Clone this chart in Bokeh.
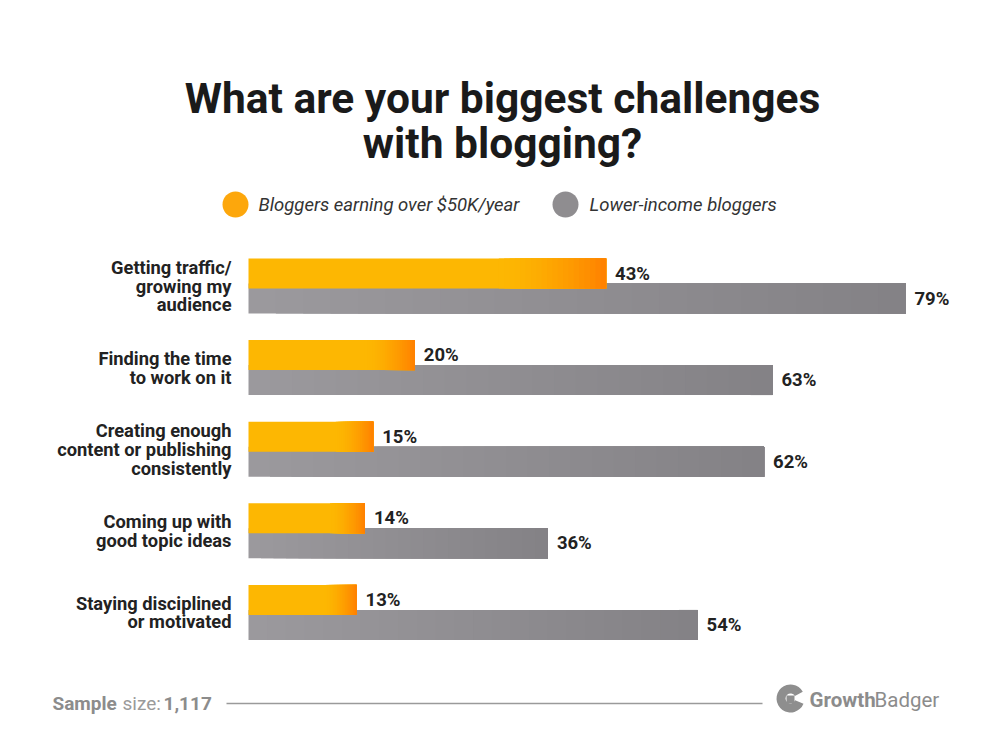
from bokeh.plotting import figure
from bokeh.models import Range1d
from bokeh.core.properties import value
from bokeh.embed import file_html
from bokeh.resources import INLINE

# ---------------- data ----------------
categories = [
    ["Getting traffic/", "growing my", "audience"],
    ["Finding the time", "to work on it"],
    ["Creating enough", "content or publishing", "consistently"],
    ["Coming up with", "good topic ideas"],
    ["Staying disciplined", "or motivated"],
]
high_income = [43, 20, 15, 14, 13]
low_income = [79, 63, 62, 36, 54]
series_names = ["Bloggers earning over $50K/year", "Lower-income bloggers"]
title_lines = ["What are your biggest challenges", "with blogging?"]
sample_size = "1,117"

# ---------------- layout helpers ----------------
W, H = 984, 738
OFF = 0
ZERO_X = 248.0          # reference pixel of 0%
PX_PER_PCT = 657.0 / 79.0


def px(xref):
    """reference pixel x -> data x (percent units)"""
    return (xref - OFF - ZERO_X + OFF) / PX_PER_PCT


def py(yref):
    """reference pixel y -> data y (figure pixel units, top-down)"""
    return yref - OFF


x_start = px(0)
x_end = px(W)

p = figure(width=W, height=H, output_backend="svg", toolbar_location=None,
           x_range=Range1d(x_start, x_end), y_range=Range1d(H, 0),
           min_border=0, background_fill_color="white", border_fill_color="white")
p.axis.visible = False
p.grid.visible = False
p.outline_line_color = None

FONT = value("Roboto")


def lerp(c1, c2, t):
    return "#%02x%02x%02x" % tuple(int(round(a + (b - a) * t)) for a, b in zip(c1, c2))


ORANGE_A = (253, 183, 2)
ORANGE_B = (255, 128, 0)
GRAY_A = (156, 154, 157)
GRAY_B = (131, 129, 134)

# ---------------- bars ----------------
GROUP0 = 273.0
GROUP_STEP = 81.6
BAR_H = 30
LBL = px(ZERO_X + 9)
for i, (hv, lv) in enumerate(zip(high_income, low_income)):
    yo = py(GROUP0 + i * GROUP_STEP)
    yg = py(GROUP0 + i * GROUP_STEP + 25)
    # gray bar with subtle gradient (each slice runs to the bar end -> no seams)
    n = 24
    lefts = [lv * k / n for k in range(n)]
    cols = [lerp(GRAY_A, GRAY_B, (k + 0.5) / n) for k in range(n)]
    p.hbar(y=[yg] * n, left=lefts, right=[lv] * n, height=BAR_H, fill_color=cols, line_color=None)
    # orange bar with gradient near the end
    f = 0.30
    solid_end = hv * (1 - f)
    n = 20
    lefts = [0] + [solid_end + hv * f * k / n for k in range(n)]
    cols = ["#%02x%02x%02x" % ORANGE_A] + [lerp(ORANGE_A, ORANGE_B, ((k + 0.5) / n) ** 1.6) for k in range(n)]
    p.hbar(y=[yo] * len(lefts), left=lefts, right=[hv] * len(lefts), height=BAR_H,
           fill_color=cols, line_color=None)

    # value labels
    p.text(x=[hv + LBL], y=[yo], text=[f"{hv}%"], text_font=FONT,
           text_font_style="bold", text_font_size="18.5px", text_color="#222222",
           text_baseline="middle", text_align="left")
    p.text(x=[lv + LBL], y=[yg], text=[f"{lv}%"], text_font=FONT,
           text_font_style="bold", text_font_size="18.5px", text_color="#222222",
           text_baseline="middle", text_align="left")

    # category labels
    lines = categories[i]
    center = py(GROUP0 + i * GROUP_STEP + 12.5)
    spacing = 18.8
    ys = [center + (j - (len(lines) - 1) / 2) * spacing for j in range(len(lines))]
    p.text(x=[px(231)] * len(lines), y=ys, text=lines, text_font=FONT,
           text_font_style="bold", text_font_size="18.3px", text_color="#222222",
           text_baseline="middle", text_align="right")

# ---------------- title ----------------
p.text(x=[px(502)] * 2, y=[py(98), py(143)], text=title_lines, text_font=FONT,
       text_font_style="bold", text_font_size="42.5px", text_color="#1a1a1a",
       text_baseline="alphabetic", text_align="center")

# ---------------- legend ----------------
p.scatter(x=[px(235)], y=[py(204)], size=26, marker="circle",
          fill_color="#fda70c", line_color=None)
p.scatter(x=[px(565)], y=[py(204)], size=26, marker="circle",
          fill_color="#8f8d90", line_color=None)
p.text(x=[px(258), px(589)], y=[py(204)] * 2, text=series_names, text_font=FONT,
       text_font_style="italic", text_font_size="18.5px", text_color="#333333",
       text_baseline="middle", text_align="left")

# ---------------- footer ----------------
p.text(x=[px(52)], y=[py(703)], text=["Sample"], text_font=FONT, text_font_style="bold",
       text_font_size="19px", text_color="#8c8c8c", text_baseline="middle")
p.text(x=[px(122)], y=[py(703)], text=["size:"], text_font=FONT, text_font_style="normal",
       text_font_size="19px", text_color="#9a9a9a", text_baseline="middle")
p.text(x=[px(163)], y=[py(703)], text=[sample_size], text_font=FONT, text_font_style="bold",
       text_font_size="19px", text_color="#8c8c8c", text_baseline="middle")
p.segment(x0=[px(226)], y0=[py(703)], x1=[px(762)], y1=[py(703)],
          line_color="#9a9a9a", line_width=1.5)

# logo
p.annular_wedge(x=[px(790)], y=[py(698)], inner_radius=5, outer_radius=14,
                inner_radius_units="screen", outer_radius_units="screen",
                start_angle=0.5, end_angle=5.9, direction="anticlock",
                fill_color="#8e8e8e", line_color=None)
p.scatter(x=[px(790)], y=[py(699)], size=8, marker="square", fill_color="#8e8e8e", line_color=None)
p.text(x=[px(809)], y=[py(699)], text=["Growth"], text_font=FONT, text_font_style="bold",
       text_font_size="20.5px", text_color="#8c8c8c", text_baseline="middle")
p.text(x=[px(874)], y=[py(699)], text=["Badger"], text_font=FONT, text_font_style="normal",
       text_font_size="20.5px", text_color="#8c8c8c", text_baseline="middle")

open("out.html", "w").write(file_html(p, INLINE))
